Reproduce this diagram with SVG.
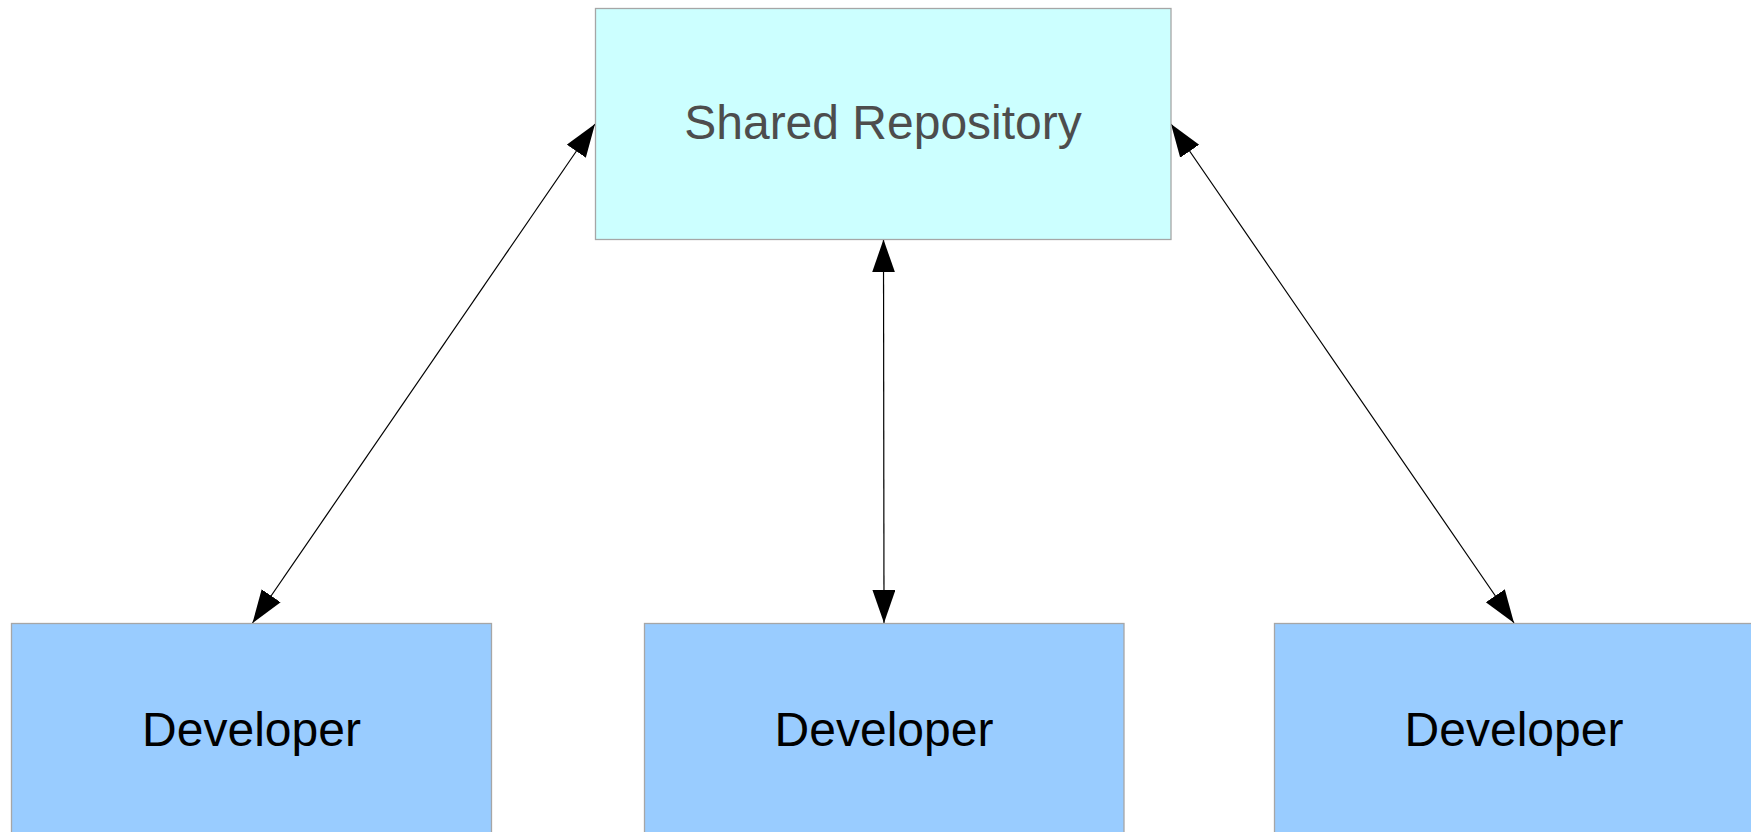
<svg xmlns="http://www.w3.org/2000/svg" width="1751" height="832" viewBox="0 0 1751 832">
  <style>
    .repo { fill: #ccffff; stroke: #a6a6a6; stroke-width: 1.3; }
    .dev { fill: #99ccff; stroke: #a6a6a6; stroke-width: 1.3; }
    .label { font-family: "Liberation Sans", Arial, sans-serif; font-size: 48px; text-anchor: middle; }
    .repo-text { fill: #4d4d4d; }
    .dev-text { fill: #000000; }
    .conn { stroke: #000000; stroke-width: 1.2; fill: none; marker-start: url(#arrow); marker-end: url(#arrow); }
  </style>
  <defs>
    <marker id="arrow" markerUnits="userSpaceOnUse" markerWidth="34" markerHeight="24" refX="33" refY="11.5" orient="auto-start-reverse" viewBox="0 0 34 24">
      <path d="M0,0 L33,11.5 L0,23 Z" fill="#000000"/>
    </marker>
  </defs>
  <rect width="1751" height="832" fill="#ffffff"/>
  <g id="connectors">
    <line class="conn" x1="595" y1="124" x2="252.5" y2="623"/>
    <line class="conn" x1="883.5" y1="239.5" x2="884" y2="623"/>
    <line class="conn" x1="1171" y1="124" x2="1514" y2="623"/>
  </g>
  <g id="shared-repository">
    <rect class="repo" x="595.5" y="8.5" width="575.5" height="231"/>
    <text class="label repo-text" x="883" y="139">Shared Repository</text>
  </g>
  <g id="developer-1">
    <rect class="dev" x="11.5" y="623.5" width="480" height="240"/>
    <text class="label dev-text" x="251.5" y="745.5">Developer</text>
  </g>
  <g id="developer-2">
    <rect class="dev" x="644.5" y="623.5" width="479.5" height="240"/>
    <text class="label dev-text" x="884" y="745.5">Developer</text>
  </g>
  <g id="developer-3">
    <rect class="dev" x="1274.5" y="623.5" width="480" height="240"/>
    <text class="label dev-text" x="1514" y="745.5">Developer</text>
  </g>
</svg>
